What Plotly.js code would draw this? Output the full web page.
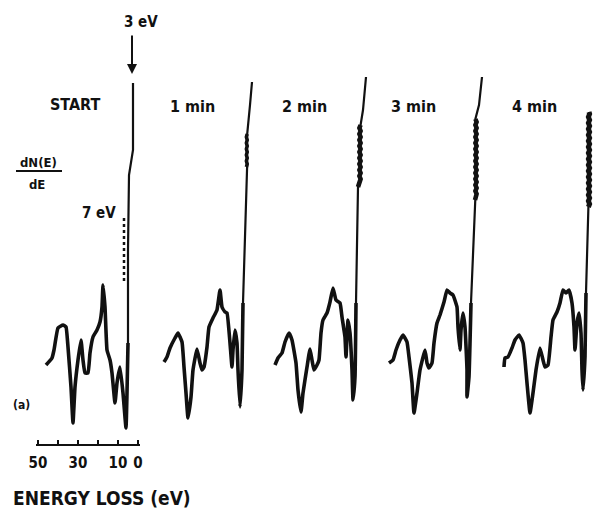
<!DOCTYPE html>
<html>
<head>
<meta charset="utf-8">
<script src="https://cdn.plot.ly/plotly-3.0.1.min.js"></script>
<style>
  html, body { margin: 0; padding: 0; background: #fff; }
  #chart { width: 593px; height: 508px; }
</style>
</head>
<body>
<div id="chart"></div>
<script>
// Energy-loss spectra dN(E)/dE, energy loss in eV, intensity in arbitrary units.
const panelLabels = ['START', '1 min', '2 min', '3 min', '4 min'];

const energyStart = [46, 43, 42, 40, 37.5, 36, 35, 33.5, 32.5, 31.5, 30, 28.5, 27.5, 26.5, 25, 24, 22.5, 20.5, 19, 18, 17.5, 16.5, 15.5, 14, 13, 11.5, 10.5, 9, 7.5, 6, 5.5, 5, 5, 4.5, 3.5, 2.5, 2.5, 2.5];
const intensityStart = [80, 87, 95, 117, 120, 118, 98, 58, 22, 58, 85, 105, 85, 72, 72, 92, 108, 115, 123, 138, 160, 138, 95, 85, 72, 42, 62, 78, 52, 17, 52, 102, 195, 270, 282, 295, 325, 362];

// dotted trace at 7 eV in the START spectrum
const energyDotted = [7, 7];
const intensityDotted = [227, 163];

// the later spectra carry a noisy burst on the elastic-peak flank
const energy1 = [45.5, 44, 42.5, 40, 38.5, 36.5, 35.5, 34.5, 33.5, 32, 31, 29, 27.5, 26.5, 25.5, 24, 23, 21, 19, 17.5, 16.5, 15, 14, 12.5, 11.5, 11, 10, 9, 8.5, 7.5, 6.5, 6,
  4.3, 3.9, 4.3, 3.9, 4.3, 3.9, 4.3, 3.9, 4.3, 3.9, 4.3, 3.9, 2.5, 1.5];
const intensity1 = [83, 88, 97, 107, 112, 103, 78, 52, 27, 48, 75, 96, 82, 75, 78, 98, 118, 127, 135, 155, 138, 133, 132, 102, 78, 95, 115, 102, 75, 38, 75, 142,
  278, 281, 284, 287, 290, 293, 296, 299, 302, 305, 308, 311, 340, 363];

const energy2 = [47.5, 46, 44, 42.5, 40.5, 39, 37, 36, 34.5, 33.5, 31.5, 30, 29, 28, 26.5, 25.5, 24.5, 23.5, 21.5, 20, 18.5, 17, 15, 14, 12.5, 12, 11, 10, 9, 8.5, 7.5, 7, 6,
  5.3, 4.7, 5.3, 4.7, 5.3, 4.7, 5.3, 4.7, 5.3, 4.7, 5.3, 4.7, 5.3, 4.7, 5.3, 4.7, 5.3, 4.7, 5.3, 4.7, 3.5, 2];
const intensity2 = [80, 87, 92, 103, 112, 105, 82, 55, 33, 52, 78, 96, 85, 75, 80, 85, 112, 125, 132, 143, 157, 145, 142, 128, 108, 88, 125, 112, 75, 45, 68, 142, 258,
  263, 266, 269, 272, 275, 278, 281, 284, 287, 290, 293, 296, 299, 302, 305, 308, 311, 314, 317, 320, 335, 368];

const energy3 = [48.5, 46.5, 45, 43, 41.5, 39.5, 38.5, 37, 36, 34.5, 33, 30.5, 29.5, 28.5, 27, 26, 24.5, 23, 21, 19.5, 18, 16.5, 14.5, 14, 13, 12.5, 11.5, 10.5, 9.5, 9.5, 8.5, 7.5, 5.5,
  5.3, 4.7, 5.3, 4.7, 5.3, 4.7, 5.3, 4.7, 5.3, 4.7, 5.3, 4.7, 5.3, 4.7, 5.3, 4.7, 5.3, 4.7, 5.3, 4.7, 5.3, 4.7, 5.3, 4.7, 5.3, 4.7, 5.3, 3.5, 2];
const intensity3 = [82, 85, 95, 105, 110, 103, 88, 62, 32, 52, 75, 95, 82, 77, 82, 102, 122, 130, 143, 155, 152, 150, 138, 118, 95, 115, 132, 118, 75, 48, 68, 142, 245,
  248, 251, 254, 257, 260, 263, 266, 269, 272, 275, 278, 281, 284, 287, 290, 293, 296, 299, 302, 305, 308, 311, 314, 317, 320, 323, 326, 340, 368];

const energy4 = [43.5, 43, 41.5, 39.5, 38, 36, 34, 33, 32, 30.5, 29, 27.5, 25.5, 24, 23, 21.5, 20, 19, 17, 15.5, 14, 12.5, 11, 9.5, 8.5, 8, 7, 6, 5, 4.5, 4, 3, 2.5,
  1.3, 0.7, 1.3, 0.7, 1.3, 0.7, 1.3, 0.7, 1.3, 0.7, 1.3, 0.7, 1.3, 0.7, 1.3, 0.7, 1.3, 0.7, 1.3, 0.7, 1.3, 0.7, 1.3, 0.7, 1.3, 0.7, 1.3, 0.7, 1.3, 0.7, 1.3, 0.7, 1];
const intensity4 = [78, 87, 88, 97, 105, 110, 102, 85, 62, 32, 52, 75, 97, 85, 78, 80, 108, 125, 133, 142, 155, 152, 155, 142, 118, 95, 122, 132, 112, 75, 55, 88, 152,
  238, 241, 244, 247, 250, 253, 256, 259, 262, 265, 268, 271, 274, 277, 280, 283, 286, 289, 292, 295, 298, 301, 304, 307, 310, 313, 316, 319, 322, 325, 328, 331, 333];

const energySeries = [energyStart, energy1, energy2, energy3, energy4];
const intensitySeries = [intensityStart, intensity1, intensity2, intensity3, intensity4];

// scale bar ticks (eV)
const scaleTicks = [50, 40, 30, 20, 10, 0];
const scaleTickText = ['50', '', '30', '', '10', '0'];

const W = 593, H = 508;
const INK = '#111111';
const FONT = 'DejaVu Sans Condensed, DejaVu Sans, sans-serif';

// each spectrum gets its own energy axis; all share the same eV-per-pixel scale
const zeroPx = [138, 255, 370, 486, 591];
const eMax = 51, eMin = -1, pxPerEv = 2;

// drawing styles: heavy loss structure, thin elastic-peak rise, heavy noise burst
const RISE_LEVEL = 180;
const topTailPoints = [0, 2, 2, 2, 0];   // points above the burst, drawn thin
const burstWidth = [0, 3.6, 4.6, 4.6, 5];

const traces = [];
energySeries.forEach((ex, i) => {
  const ey = intensitySeries[i];
  const xa = i === 0 ? 'x' : 'x' + (i + 1);
  const firstHigh = ey.findIndex(v => v > RISE_LEVEL);
  const split = firstHigh - 1;
  traces.push({
    type: 'scatter', mode: 'lines',
    x: ex.slice(0, split + 1), y: ey.slice(0, split + 1),
    xaxis: xa, yaxis: 'y',
    line: { color: INK, width: 3.6, shape: 'spline', smoothing: 0.35 },
    hoverinfo: 'skip', name: panelLabels[i]
  });
  traces.push({
    type: 'scatter', mode: 'lines',
    x: ex.slice(split), y: ey.slice(split),
    xaxis: xa, yaxis: 'y',
    line: { color: INK, width: 2.2 },
    hoverinfo: 'skip', name: panelLabels[i]
  });
  if (i > 0) {
    const bEnd = ex.length - 1 - topTailPoints[i];
    traces.push({
      type: 'scatter', mode: 'lines',
      x: ex.slice(firstHigh, bEnd + 1), y: ey.slice(firstHigh, bEnd + 1),
      xaxis: xa, yaxis: 'y',
      line: { color: INK, width: burstWidth[i] },
      hoverinfo: 'skip', name: panelLabels[i]
    });
  }
});
traces.push({
  type: 'scatter', mode: 'lines',
  x: energyDotted, y: intensityDotted, xaxis: 'x', yaxis: 'y',
  line: { color: INK, width: 2.5, dash: 'dot' }, hoverinfo: 'skip'
});

const layout = {
  width: W, height: H,
  margin: { l: 0, r: 0, t: 0, b: 0, pad: 0 },
  paper_bgcolor: '#ffffff', plot_bgcolor: 'rgba(0,0,0,0)',
  showlegend: false,
  yaxis: { domain: [0, 1], range: [-63, 445], visible: false, fixedrange: true },
  annotations: [], shapes: []
};

zeroPx.forEach((z, i) => {
  const key = i === 0 ? 'xaxis' : 'xaxis' + (i + 1);
  const left = z - eMax * pxPerEv;
  const right = z - eMin * pxPerEv;
  const ax = {
    domain: [left / W, right / W],
    range: [eMax, eMin],
    showgrid: false, zeroline: false, fixedrange: true
  };
  if (i === 0) {
    Object.assign(ax, {
      anchor: 'free', position: 1 - 445 / H,
      showline: true, linecolor: INK, linewidth: 2,
      ticks: 'inside', ticklen: 4, tickwidth: 2, tickcolor: INK,
      tickmode: 'array', tickvals: scaleTicks, ticktext: scaleTickText,
      ticklabelstandoff: 4,
      tickfont: { family: FONT, size: 15, color: INK, weight: 'bold' }
    });
  } else {
    Object.assign(ax, { anchor: 'y', visible: false });
  }
  layout[key] = ax;
});

function label(text, px, py, size) {
  return {
    text: text, xref: 'paper', yref: 'paper',
    x: px / W, y: 1 - py / H, xanchor: 'center', yanchor: 'middle',
    showarrow: false,
    font: { family: FONT, size: size, color: INK, weight: 'bold' }
  };
}

layout.annotations.push(
  label('START', 75, 105, 16),
  label('1 min', 192, 107, 16),
  label('2 min', 304, 107, 16),
  label('3 min', 413, 107, 16),
  label('4 min', 534, 107, 16),
  label('3 eV', 141, 22, 15),
  label('7 eV', 99, 213, 15),
  label('dN(E)', 38, 162, 13),
  label('dE', 37, 184, 13),
  label('(a)', 21, 405, 12),
  label('ENERGY LOSS (eV)', 102, 498, 19),
  {
    text: '', xref: 'x', yref: 'y', x: 3, y: 445 - 74,
    showarrow: true, ax: 0, ay: -40, axref: 'pixel', ayref: 'pixel',
    arrowhead: 2, arrowsize: 1, arrowwidth: 2, arrowcolor: INK, standoff: 0
  }
);

layout.shapes.push({
  type: 'line', xref: 'paper', yref: 'paper',
  x0: 16 / W, x1: 62 / W, y0: 1 - 171 / H, y1: 1 - 171 / H,
  line: { color: INK, width: 2 }
});

Plotly.newPlot('chart', traces, layout, { staticPlot: true, displayModeBar: false });
</script>
</body>
</html>
